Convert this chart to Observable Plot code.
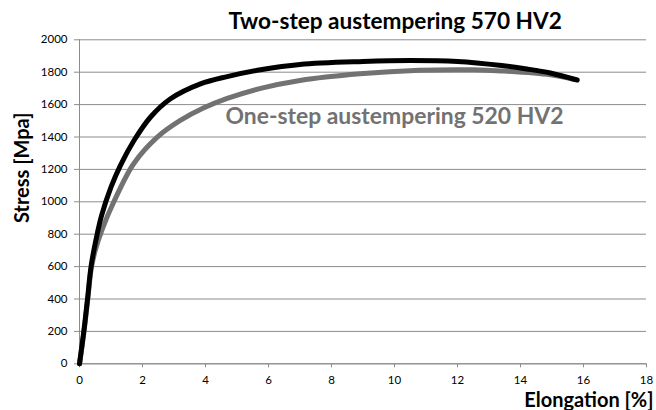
<!DOCTYPE html>
<html>
<head>
<meta charset="utf-8">
<script src="https://cdn.jsdelivr.net/npm/d3@7"></script>
<script src="https://cdn.jsdelivr.net/npm/@observablehq/plot@0.6"></script>
<style>
  html, body { margin: 0; padding: 0; background: white; }
  #chart svg { display: block; }
</style>
</head>
<body>
<div id="chart"></div>
<script>
// Two-step austempering 570 HV2 (black)
const twoStepStrain = [0, 0.14, 0.26, 0.37, 0.56, 0.7, 1.0, 1.3, 1.72, 2.25, 2.89, 3.84, 4.69, 5.75, 7.0, 9.0, 10.5, 12.0, 13.4, 14.2, 14.95, 15.8];
const twoStepStress = [0, 205, 410, 605, 800, 915, 1090, 1225, 1375, 1522, 1636, 1728, 1773, 1815, 1848, 1866, 1872, 1866, 1841, 1820, 1795, 1752];
// One-step austempering 520 HV2 (grey)
const oneStepStrain = [0, 0.14, 0.26, 0.37, 0.5, 0.72, 1.09, 1.72, 2.47, 3.2, 3.95, 4.69, 5.75, 7.0, 8.9, 10.8, 12.5, 13.4, 14.95, 15.7];
const oneStepStress = [0, 195, 395, 585, 700, 830, 1000, 1235, 1399, 1502, 1580, 1638, 1700, 1749, 1790, 1812, 1815, 1808, 1784, 1755];

const seriesNames = ["Two-step austempering 570 HV2", "One-step austempering 520 HV2"];
const xTicks = [0, 2, 4, 6, 8, 10, 12, 14, 16, 18];
const yTicks = [0, 200, 400, 600, 800, 1000, 1200, 1400, 1600, 1800, 2000];
const xLabel = "Elongation [%]";
const yLabel = "Stress [Mpa]";

const two = twoStepStrain.map((x, i) => ({x, y: twoStepStress[i]}));
const one = oneStepStrain.map((x, i) => ({x, y: oneStepStress[i]}));

const axisGray = "#8c8c8c";
const fontFam = "Lato, 'Open Sans', sans-serif";

const chart = Plot.plot({
  width: 656,
  height: 410,
  marginLeft: 79,
  marginRight: 10,
  marginTop: 39.3,
  marginBottom: 46.7,
  style: {fontFamily: fontFam, fontSize: "11.5px", color: "#000", background: "white"},
  x: {domain: [0, 18]},
  y: {domain: [0, 2000]},
  marks: [
    Plot.gridY(yTicks, {stroke: axisGray, strokeOpacity: 1, strokeWidth: 1}),
    Plot.ruleX([0], {stroke: axisGray, strokeWidth: 1}),
    Plot.ruleY([0], {stroke: axisGray, strokeWidth: 1}),
    Plot.axisY(yTicks, {tickSize: 5, tickPadding: 7, stroke: axisGray, fill: "#000", label: null, fontSize: 11.5, tickFormat: d => String(d)}),
    Plot.axisX(xTicks, {tickSize: 4, tickPadding: 8, stroke: axisGray, fill: "#000", label: null, fontSize: 11.5, tickFormat: d => String(d)}),
    Plot.line(one, {x: "x", y: "y", stroke: "#727272", strokeWidth: 5, curve: "catmull-rom"}),
    Plot.line(two, {x: "x", y: "y", stroke: "#000", strokeWidth: 5, curve: "catmull-rom"}),
    Plot.text([seriesNames[0]], {frameAnchor: "top-left", textAnchor: "start", lineAnchor: "bottom", dx: 149, dy: -11, fontSize: 22.6, fontWeight: "bold", fill: "#000"}),
    Plot.text([seriesNames[1]], {frameAnchor: "top-left", textAnchor: "start", lineAnchor: "bottom", dx: 146, dy: 83.7, fontSize: 22.9, fontWeight: "bold", fill: "#727272"}),
    Plot.text([yLabel], {frameAnchor: "left", textAnchor: "middle", lineAnchor: "middle", rotate: -90, dx: -57, dy: -34, fontSize: 20, fontWeight: "bold", fill: "#000"}),
    Plot.text([xLabel], {frameAnchor: "bottom-right", textAnchor: "end", lineAnchor: "bottom", dx: 7, dy: 43, fontSize: 20, fontWeight: "bold", fill: "#000"})
  ]
});
document.getElementById("chart").appendChild(chart);
</script>
</body>
</html>
